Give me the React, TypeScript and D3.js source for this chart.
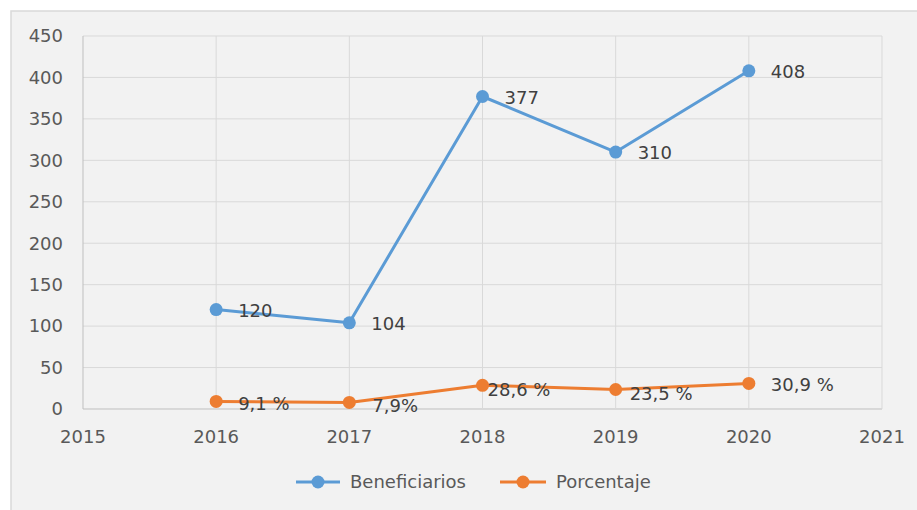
import React from "react";
import * as d3 from "d3";

const years = [2016, 2017, 2018, 2019, 2020];
const beneficiarios = [120, 104, 377, 310, 408];
const porcentaje = [9.1, 7.9, 28.6, 23.5, 30.9];
const porcentajeLabels = ["9,1 %", "7,9%", "28,6 %", "23,5 %", "30,9 %"];
const yTicks = [0, 50, 100, 150, 200, 250, 300, 350, 400, 450];
const xTicks = [2015, 2016, 2017, 2018, 2019, 2020, 2021];
const seriesNames = ["Beneficiarios", "Porcentaje"];

// label placement offsets (styling)
const pctLabelDx = [22, 23, 5, 14, 22];
const pctLabelDy = [2, 3, 4, 4, 1];

const W = 917;
const H = 510;
const BLUE = "#5B9BD5";
const ORANGE = "#ED7D31";
const FONT = "DejaVu Sans, sans-serif";

export default function App() {
  const x = d3.scaleLinear().domain([2015, 2021]).range([83, 882]);
  const y = d3.scaleLinear().domain([0, 450]).range([409, 36]);
  const line = d3
    .line<[number, number]>()
    .x((d) => x(d[0]))
    .y((d) => y(d[1]));
  const bPts: [number, number][] = years.map((yr, i) => [yr, beneficiarios[i]]);
  const pPts: [number, number][] = years.map((yr, i) => [yr, porcentaje[i]]);

  return (
    <svg
      width={W}
      height={H}
      style={{ position: "absolute", left: 0, top: 0, background: "#fff" }}
    >
      <rect x={11} y={11} width={W - 10} height={H} fill="#f2f2f2" stroke="#d9d9d9" strokeWidth={1.5} />
      {/* horizontal grid */}
      {yTicks.map((t) => (
        <line key={"h" + t} x1={83} x2={882} y1={y(t)} y2={y(t)} stroke={t === 0 ? "#bfbfbf" : "#d9d9d9"} strokeWidth={1} />
      ))}
      {/* vertical grid */}
      {xTicks.map((t) => (
        <line key={"v" + t} x1={x(t)} x2={x(t)} y1={36} y2={409} stroke={t === 2015 ? "#bfbfbf" : "#d9d9d9"} strokeWidth={1} />
      ))}
      {/* y tick labels */}
      {yTicks.map((t) => (
        <text key={"yl" + t} x={63} y={y(t)} dy="0.35em" textAnchor="end" fontFamily={FONT} fontSize={18} fill="#595959">
          {t}
        </text>
      ))}
      {/* x tick labels */}
      {xTicks.map((t) => (
        <text key={"xl" + t} x={x(t)} y={437} dy="0.35em" textAnchor="middle" fontFamily={FONT} fontSize={18} fill="#595959">
          {t}
        </text>
      ))}
      {/* series lines */}
      <path d={line(bPts) || ""} fill="none" stroke={BLUE} strokeWidth={3} strokeLinejoin="round" />
      <path d={line(pPts) || ""} fill="none" stroke={ORANGE} strokeWidth={3} strokeLinejoin="round" />
      {bPts.map((p, i) => (
        <circle key={"bc" + i} cx={x(p[0])} cy={y(p[1])} r={6.5} fill={BLUE} />
      ))}
      {pPts.map((p, i) => (
        <circle key={"pc" + i} cx={x(p[0])} cy={y(p[1])} r={6.5} fill={ORANGE} />
      ))}
      {/* data labels */}
      {bPts.map((p, i) => (
        <text key={"bl" + i} x={x(p[0]) + 22} y={y(p[1]) + 1} dy="0.35em" fontFamily={FONT} fontSize={18} fill="#404040">
          {beneficiarios[i]}
        </text>
      ))}
      {pPts.map((p, i) => (
        <text key={"pl" + i} x={x(p[0]) + pctLabelDx[i]} y={y(p[1]) + pctLabelDy[i]} dy="0.35em" fontFamily={FONT} fontSize={18} fill="#404040">
          {porcentajeLabels[i]}
        </text>
      ))}
      {/* legend */}
      <line x1={296} x2={340} y1={482} y2={482} stroke={BLUE} strokeWidth={3} />
      <circle cx={318} cy={482} r={6.5} fill={BLUE} />
      <text x={350} y={482} dy="0.35em" fontFamily={FONT} fontSize={18} fill="#595959">
        {seriesNames[0]}
      </text>
      <line x1={500} x2={546} y1={482} y2={482} stroke={ORANGE} strokeWidth={3} />
      <circle cx={523} cy={482} r={6.5} fill={ORANGE} />
      <text x={556} y={482} dy="0.35em" fontFamily={FONT} fontSize={18} fill="#595959">
        {seriesNames[1]}
      </text>
    </svg>
  );
}
